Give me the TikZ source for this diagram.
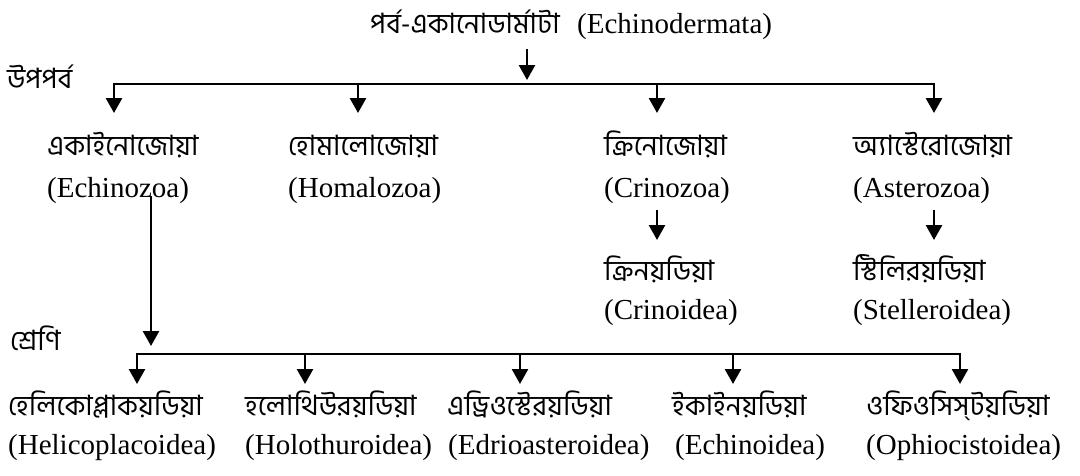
\documentclass[tikz,border=0pt]{standalone}
\usepackage{fontspec}
\setmainfont{Liberation Serif}
\newfontfamily\bnfont[Script=Bengali]{Hind Siliguri}
\usetikzlibrary{arrows.meta}
\tikzset{
  en/.style={anchor=base west, inner sep=0pt, font=\fontsize{29}{35}\selectfont},
  bn/.style={anchor=base west, inner sep=0pt, font=\bnfont\fontsize{28}{32}\selectfont},
  barline/.style={line width=2.5pt, line cap=rect},
  arr/.style={line width=2.6pt, -{Triangle[width=16pt,length=15pt]}},
  thinline/.style={line width=1.4pt}
}
\begin{document}
\begin{tikzpicture}[x=1pt,y=-1pt]
\useasboundingbox (0,0) rectangle (1080,475);
% title
\node[bn] (titlebn) at (370,33) {পর্ব-একানোডার্মাটা};
\node[en] (titleen) at (577,33) {(Echinodermata)};
\node[bn] (upoparbo) at (7,88) {উপপর্ব};
% level 1
\node[bn] (echb) at (47,155) {একাইনোজোয়া};
\node[en] (eche) at (47,197) {(Echinozoa)};
\node[bn] (homb) at (288,155) {হোমালোজোয়া};
\node[en] (home) at (288,197) {(Homalozoa)};
\node[bn] (crib) at (604,155) {ক্রিনোজোয়া};
\node[en] (crie) at (604,197) {(Crinozoa)};
\node[bn] (astb) at (853,155) {অ্যাস্টেরোজোয়া};
\node[en] (aste) at (853,197) {(Asterozoa)};
% level 2
\node[bn] (crnb) at (604,280) {ক্রিনয়ডিয়া};
\node[en] (crne) at (604,319) {(Crinoidea)};
\node[bn] (stlb) at (853,280) {স্টিলিরয়ডিয়া};
\node[en] (stle) at (853,319) {(Stelleroidea)};
% class
\node[bn] (shreni) at (10,350) {শ্রেণি};
\node[bn] (helb) at (8,415) {হেলিকোপ্লাকয়ডিয়া};
\node[en] (hele) at (8,454) {(Helicoplacoidea)};
\node[bn] (holb) at (245,415) {হলোথিউরয়ডিয়া};
\node[en] (hole) at (245,454) {(Holothuroidea)};
\node[bn] (edrb) at (447,415) {এড্রিওস্টেরয়ডিয়া};
\node[en] (edre) at (448,454) {(Edrioasteroidea)};
\node[bn] (ecib) at (672,415) {ইকাইনয়ডিয়া};
\node[en] (ecie) at (675,454) {(Echinoidea)};
\node[bn] (ophb) at (866,415) {ওফিওসিস্‌টয়ডিয়া};
\node[en] (ophe) at (866,454) {(Ophiocistoidea)};
% connector coordinates
\coordinate (ts) at (527,49);
\coordinate (tt) at (527,80);
\coordinate (b1) at (114,84);
\coordinate (b2) at (358,84);
\coordinate (b3) at (657,84);
\coordinate (b4) at (934,84);
\coordinate (e0) at (151,196);
\coordinate (e1) at (151,314);
\coordinate (e2) at (151,346);
\coordinate (c1) at (137,354);
\coordinate (c2) at (305,354);
\coordinate (c3) at (520,354);
\coordinate (c4) at (733,354);
\coordinate (c5) at (960,354);
\coordinate (cs) at (657,210);
\coordinate (ct) at (657,240);
\coordinate (as) at (934,210);
\coordinate (at) at (934,240);
% top
\draw[arr] (ts) -- (tt);
\draw[barline] (b1) -- (b4);
\foreach \p in {b1,b2,b3,b4}
  \draw[arr] (\p) -- (\p |- 0,113);
\draw[arr] (cs) -- (ct);
\draw[arr] (as) -- (at);
% echinozoa to classes
\draw[thinline] (e0) -- (e1);
\draw[arr] (e1) -- (e2);
\draw[barline] (c1) -- (c5);
\foreach \p in {c1,c2,c3,c4,c5}
  \draw[arr] (\p) -- (\p |- 0,384);
\end{tikzpicture}
\end{document}
